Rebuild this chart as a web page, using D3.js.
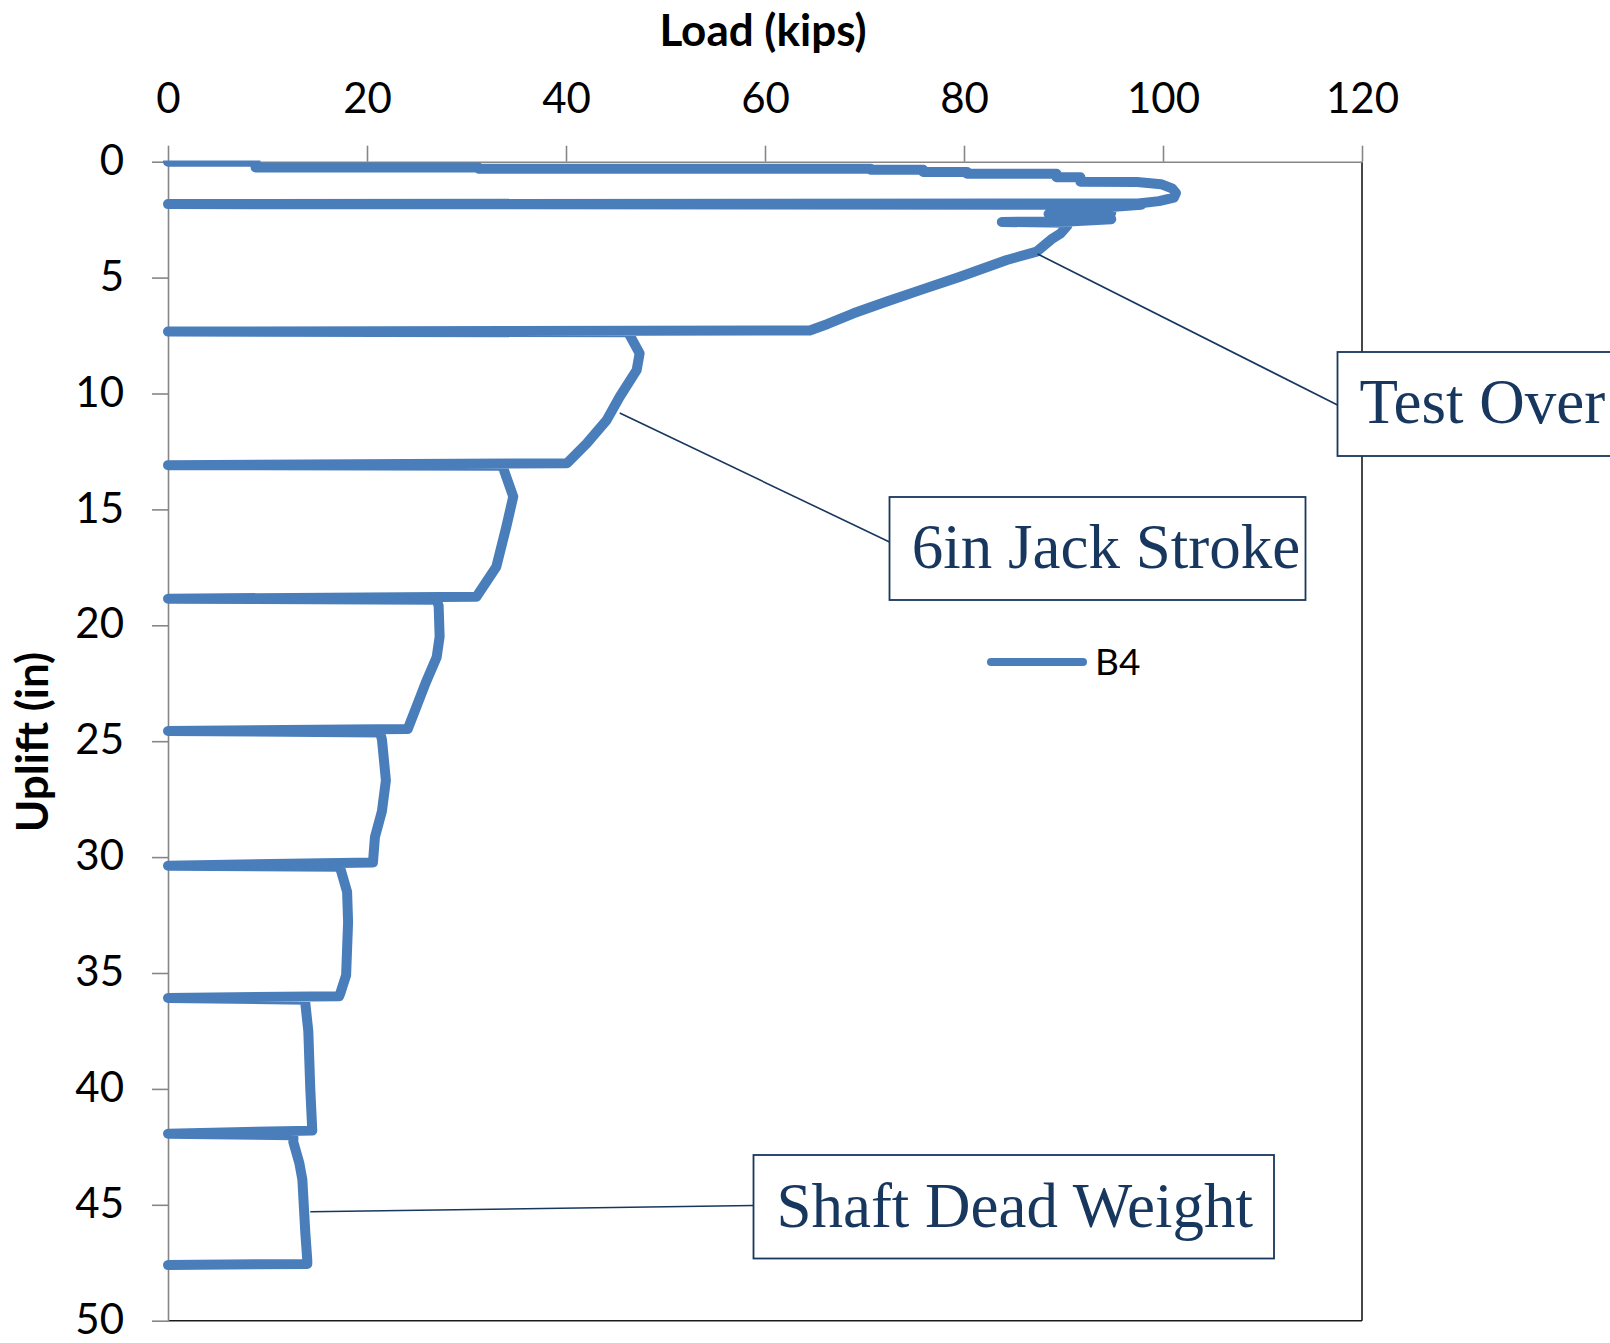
<!DOCTYPE html>
<html>
<head>
<meta charset="utf-8">
<script src="https://cdn.jsdelivr.net/npm/d3@7"></script>
<style>
  html, body { margin: 0; padding: 0; background: #fff; }
  svg { display: block; }
</style>
</head>
<body>
<div id="chart"></div>
<script>
// load (kips) vs uplift (in), series B4
var loadKips = [
  0, 8.8, 8.8, 31.2, 31.2, 70.6, 70.6, 75.9, 75.9, 80.3, 80.3, 89.3, 89.3, 91.7, 91.7,
  97.4, 99.8, 100.9, 101.3, 101.1, 99.6, 97.5, 0, 97.8, 94.8, 94.8, 88.5, 94.6, 94.8,
  91, 83.8, 90.4, 90.4, 89.7, 88.9, 87.3, 84.3, 79.6, 75.6, 72.1, 68.9, 66.3, 64.5,
  0, 46.2, 46.4, 47.4, 47.1, 45.4, 44.1, 42.1, 40.1,
  0, 33.4, 33.7, 34.7, 34.0, 33.0, 31.0,
  0, 27.0, 27.2, 27.3, 27.0, 25.9, 24.9, 24.1,
  0, 21.3, 21.5, 21.9, 21.5, 20.8, 20.6,
  0, 17.2, 17.4, 18.0, 18.1, 17.9, 17.3, 17.2,
  0, 13.8, 13.8, 14.1, 14.3, 14.5,
  0, 12.6, 12.6, 13.2, 13.5, 13.8, 14.0, 14.0, 0
];
var upliftIn = [
  0, 0, 0.25, 0.25, 0.3, 0.3, 0.35, 0.35, 0.44, 0.44, 0.52, 0.52, 0.67, 0.67, 0.86,
  0.88, 0.97, 1.15, 1.35, 1.55, 1.7, 1.8, 1.83, 1.86, 1.95, 2.2, 2.25, 2.3, 2.48,
  2.57, 2.6, 2.63, 2.75, 3.1, 3.31, 3.88, 4.24, 4.96, 5.54, 6.05, 6.54, 7.0, 7.28,
  7.33, 7.36, 7.48, 8.27, 8.99, 10.14, 11.14, 12.15, 13.01,
  13.09, 13.12, 13.23, 14.45, 15.75, 17.47, 18.77,
  18.85, 18.9, 19.16, 20.49, 21.38, 22.48, 23.59, 24.47,
  24.56, 24.62, 24.92, 26.69, 28.02, 29.13, 30.23,
  30.37, 30.42, 30.6, 31.5, 32.8, 35.1, 35.9, 36.0,
  36.08, 36.15, 36.3, 37.5, 40.0, 41.8,
  41.93, 42.0, 42.3, 43.2, 43.9, 46.2, 47.4, 47.55, 47.6
];
var seriesName = "B4";

var loadTicks = [0, 20, 40, 60, 80, 100, 120];
var upliftTicks = [0, 5, 10, 15, 20, 25, 30, 35, 40, 45, 50];

// callouts: text and the point on the curve they point at
var noteText = ["Test Over", "6in Jack Stroke", "Shaft Dead Weight"];
var noteLoad = [87.4, 45.4, 14.3];
var noteUplift = [3.98, 10.84, 45.3];

(function () {
  var W = 1610, H = 1343;
  var plotL = 168, plotR = 1362, plotT = 161.7, plotB = 1320.7;
  var blue = "#4A7EBB", navy = "#17375E", grey = "#868686";
  var sans = "Lato, 'Open Sans', sans-serif";

  var svg = d3.select("#chart").append("svg")
    .attr("width", W).attr("height", H)
    .style("background", "#fff");

  var x = d3.scaleLinear().domain([0, 120]).range([plotL, plotR]);
  var y = d3.scaleLinear().domain([0, 50]).range([plotT, plotB]);

  // plot area border (right and bottom are dark)
  svg.append("line").attr("x1", plotR).attr("x2", plotR).attr("y1", plotT).attr("y2", plotB)
    .attr("stroke", "#1a1a1a").attr("stroke-width", 1.6);
  svg.append("line").attr("x1", plotL).attr("x2", plotR).attr("y1", plotB).attr("y2", plotB)
    .attr("stroke", "#1a1a1a").attr("stroke-width", 1.6);

  // axes
  var xAxis = svg.append("g").attr("transform", "translate(0," + plotT + ")")
    .call(d3.axisTop(x).tickValues(loadTicks).tickSize(16).tickSizeOuter(0).tickPadding(33));
  var yAxis = svg.append("g").attr("transform", "translate(" + plotL + ",0)")
    .call(d3.axisLeft(y).tickValues(upliftTicks).tickSize(16).tickSizeOuter(0).tickPadding(28));

  [xAxis, yAxis].forEach(function (g) {
    g.select(".domain").attr("stroke", grey).attr("stroke-width", 1.6);
    g.selectAll(".tick line").attr("stroke", grey).attr("stroke-width", 1.6);
    g.selectAll(".tick text")
      .attr("fill", "#000")
      .style("font-family", sans)
      .style("font-size", "42px");
  });
  // keep the bottom label inside the page
  yAxis.selectAll(".tick text").attr("dy", "0.3em");

  // axis titles
  svg.append("text")
    .attr("x", (plotL + plotR) / 2 - 2).attr("y", 46)
    .attr("text-anchor", "middle")
    .style("font-family", sans).style("font-weight", "bold").style("font-size", "44px")
    .text("Load (kips)");
  svg.append("text")
    .attr("transform", "translate(48,742) rotate(-90)")
    .attr("text-anchor", "middle")
    .style("font-family", sans).style("font-weight", "bold").style("font-size", "44px")
    .text("Uplift (in)");

  // the series
  svg.append("clipPath").attr("id", "plotclip")
    .append("rect").attr("x", plotL - 6).attr("y", plotT - 1.2)
    .attr("width", plotR - plotL + 6).attr("height", plotB - plotT + 1.2);

  var pts = loadKips.map(function (d, i) { return [d, upliftIn[i]]; });
  var line = d3.line().x(function (d) { return x(d[0]); }).y(function (d) { return y(d[1]); });

  svg.append("path")
    .datum(pts)
    .attr("clip-path", "url(#plotclip)")
    .attr("d", line)
    .attr("fill", "none")
    .attr("stroke", blue)
    .attr("stroke-width", 10)
    .attr("stroke-linejoin", "round")
    .attr("stroke-linecap", "round");

  // legend
  var lg = svg.append("g").attr("transform", "translate(991,662)");
  lg.append("line").attr("x1", 0).attr("x2", 92).attr("y1", 0).attr("y2", 0)
    .attr("stroke", blue).attr("stroke-width", 8).attr("stroke-linecap", "round");
  lg.append("text").attr("x", 104).attr("y", 13)
    .style("font-family", sans).style("font-size", "37px")
    .text(seriesName);

  // callout boxes (pixel layout)
  var boxes = [
    { x: 1337.5, y: 352, w: 280, h: 104, tx: 1359.5, ty: 423, ey: 405 },
    { x: 889.5, y: 497, w: 416, h: 103, tx: 911.7, ty: 568.3, ey: 542 },
    { x: 753.5, y: 1155, w: 520.5, h: 103.5, tx: 776.4, ty: 1226.7, ey: 1205.5 }
  ];

  noteText.forEach(function (t, i) {
    var b = boxes[i];
    svg.append("line")
      .attr("x1", x(noteLoad[i])).attr("y1", y(noteUplift[i]))
      .attr("x2", b.x).attr("y2", b.ey)
      .attr("stroke", navy).attr("stroke-width", 1.6);
    svg.append("rect")
      .attr("x", b.x).attr("y", b.y).attr("width", b.w).attr("height", b.h)
      .attr("fill", "#fff").attr("stroke", navy).attr("stroke-width", 1.8);
    svg.append("text")
      .attr("x", b.tx).attr("y", b.ty)
      .attr("fill", navy)
      .style("font-family", "'Liberation Serif', 'Times New Roman', serif")
      .style("font-size", "63px")
      .text(t);
  });
})();
</script>
</body>
</html>
